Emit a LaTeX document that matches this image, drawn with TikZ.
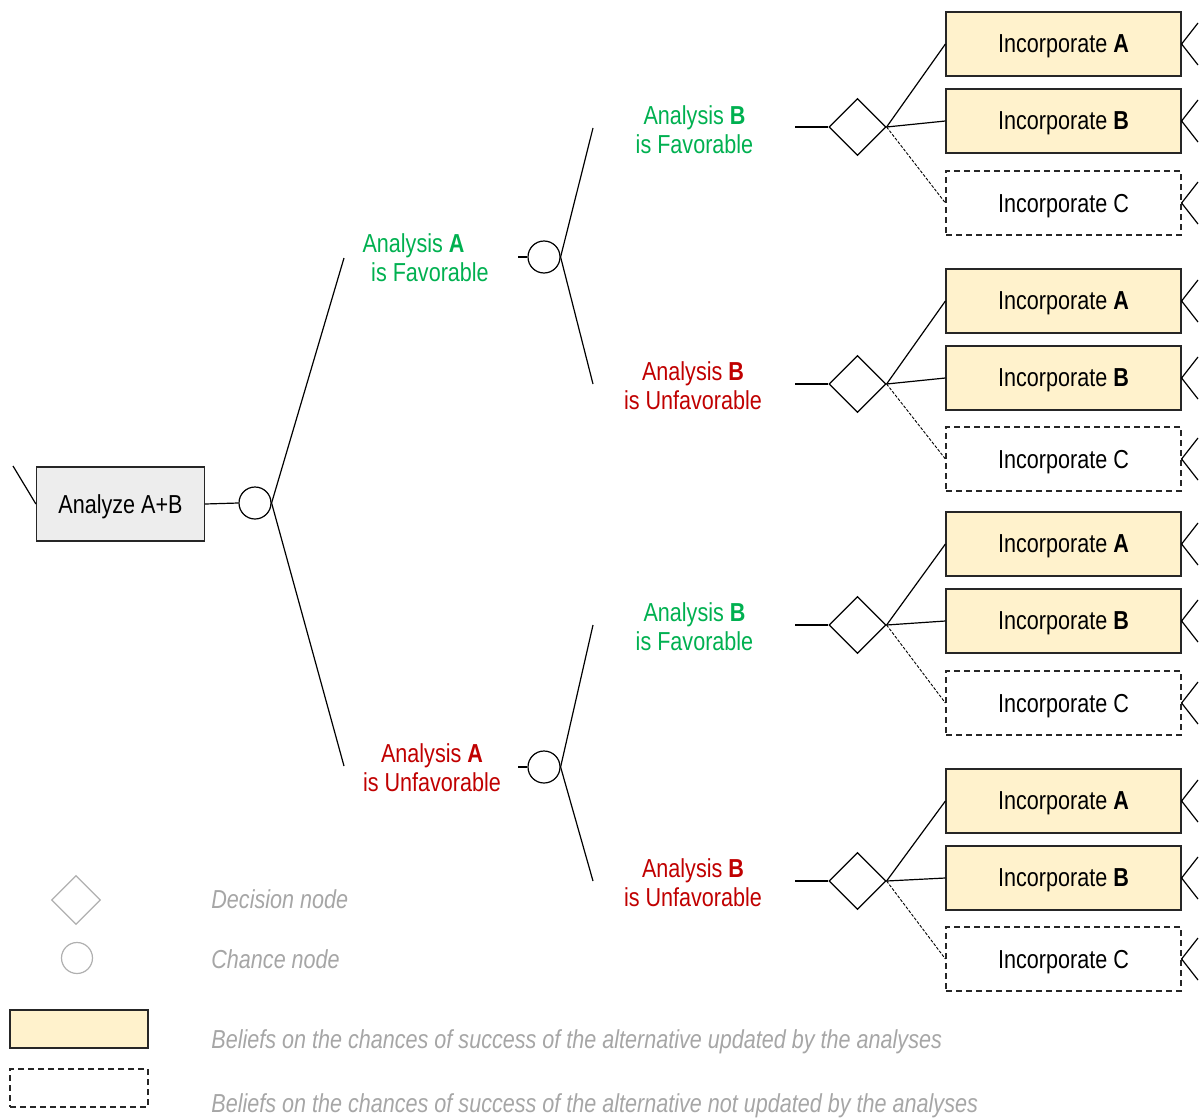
\documentclass[tikz,border=0pt]{standalone}
\usepackage{fontspec}
\setmainfont{Liberation Sans}[FakeStretch=0.83]
\usetikzlibrary{shapes.geometric}
\definecolor{boxfill}{HTML}{FFF2CC}
\definecolor{anfill}{HTML}{EDEDED}
\definecolor{favgreen}{HTML}{00B050}
\definecolor{unfred}{HTML}{C00000}
\definecolor{leggray}{HTML}{A6A6A6}
\definecolor{legline}{HTML}{B0B0B0}
\tikzset{
  base font/.style={font=\fontsize{13}{14.5}\selectfont},
  anbox/.style={draw=black!85, line width=0.6pt, fill=anfill, minimum width=84pt, minimum height=37pt, inner sep=0pt, text depth=0pt, base font},
  incbox/.style={draw=black!85, line width=0.6pt, fill=boxfill, minimum width=117.5pt, minimum height=32pt, inner sep=0pt, text depth=0pt, base font},
  inccbox/.style={draw=black!85, line width=0.6pt, dash pattern=on 3pt off 2pt, minimum width=117.5pt, minimum height=32pt, inner sep=0pt, text depth=0pt, base font},
  chance/.style={circle, draw, line width=0.6pt, fill=white, minimum size=16pt, inner sep=0pt},
  decision/.style={diamond, draw, line width=0.6pt, fill=white, minimum width=28.5pt, minimum height=28.5pt, inner sep=0pt, aspect=1},
  branch/.style={line width=0.6pt},
  dbranch/.style={line width=0.45pt, dash pattern=on 1.5pt off 0.8pt},
  lblfav/.style={align=center, anchor=south, inner sep=0pt, text=favgreen, base font},
  lblunf/.style={align=center, anchor=south, inner sep=0pt, text=unfred, base font},
  legtext/.style={anchor=base west, inner sep=0pt, text=leggray, font=\fontsize{13}{14.5}\selectfont\itshape},
}
\begin{document}
\begin{tikzpicture}[x=0.5pt, y=-0.5pt]
\useasboundingbox (0,0) rectangle (1200,1119);

% root
\node[anbox] (an) at (120.5,504) {Analyze A+B};
\coordinate (anin) at (13,466);
\draw[branch] (anin) -- (an.west);

\node[chance] (c1) at (255,503) {};
\draw[branch] (an.east) -- (c1.west);

% level 1 branches
\coordinate (p1u) at (344,258);
\coordinate (p1d) at (344,766);
\draw[branch] (c1.east) -- (p1u);
\draw[branch] (c1.east) -- (p1d);

\node[lblfav] (la1) at (430,282) {Analysis \textbf{A}\hspace*{16.5pt}\\is Favorable};
\node[lblunf] (la2) at (432,792) {Analysis \textbf{A}\\is Unfavorable};

\coordinate (s1u) at (518,257);
\coordinate (s1d) at (518,767);
\node[chance] (c2u) at (544,257) {};
\node[chance] (c2d) at (544,767) {};
\draw[branch] (s1u) -- (c2u.west);
\draw[branch] (s1d) -- (c2d.west);

% level 2 branches
\coordinate (p2a) at (593,128);
\coordinate (p2b) at (593,384);
\coordinate (p2c) at (593,625);
\coordinate (p2d) at (593,881);
\draw[branch] (c2u.east) -- (p2a);
\draw[branch] (c2u.east) -- (p2b);
\draw[branch] (c2d.east) -- (p2c);
\draw[branch] (c2d.east) -- (p2d);

\node[lblfav] (lb1) at (694.5,154) {Analysis \textbf{B}\\is Favorable};
\node[lblunf] (lb2) at (693,410) {Analysis \textbf{B}\\is Unfavorable};
\node[lblfav] (lb3) at (694.5,651) {Analysis \textbf{B}\\is Favorable};
\node[lblunf] (lb4) at (693,907) {Analysis \textbf{B}\\is Unfavorable};

% decision groups
\foreach \g/\dy/\ya/\yb/\yc in {1/127/44/121/203, 2/384/301/378/459, 3/625/544/621/703, 4/881/801/878/959}{
  \coordinate (s2\g) at (795,\dy);
  \node[decision] (d\g) at (857.5,\dy) {};
  \draw[branch] (s2\g) -- (d\g.west);
  \node[incbox] (ia\g) at (1063.5,\ya) {Incorporate \textbf{A}};
  \node[incbox] (ib\g) at (1063.5,\yb) {Incorporate \textbf{B}};
  \node[inccbox] (ic\g) at (1063.5,\yc) {Incorporate C};
  \draw[branch] (d\g.east) -- (ia\g.west);
  \draw[branch] (d\g.east) -- (ib\g.west);
  \draw[dbranch] (d\g.east) -- (ic\g.west);
  \foreach \k/\yy in {a/\ya, b/\yb, c/\yc}{
    \coordinate (t\k\g) at (1198,\yy-21);
    \coordinate (u\k\g) at (1198,\yy+21);
    \draw[branch] (t\k\g) -- (i\k\g.east) -- (u\k\g);
  }
}

% legend
\node[decision, draw=legline, minimum width=24.5pt, minimum height=24.5pt] (lgd) at (76,900) {};
\node[chance, draw=legline, minimum size=15.5pt] (lgc) at (77,958) {};
\node[incbox, minimum width=69pt, minimum height=19pt] (lgf) at (79,1029) {};
\node[inccbox, minimum width=69pt, minimum height=19pt] (lgn) at (79,1088) {};
\node[legtext] (tgd) at (211,908) {Decision node};
\node[legtext] (tgc) at (211,968) {Chance node};
\node[legtext] (tgf) at (211,1048) {Beliefs on the chances of success of the alternative updated by the analyses};
\node[legtext] (tgn) at (211,1112) {Beliefs on the chances of success of the alternative not updated by the analyses};
\end{tikzpicture}
\end{document}
